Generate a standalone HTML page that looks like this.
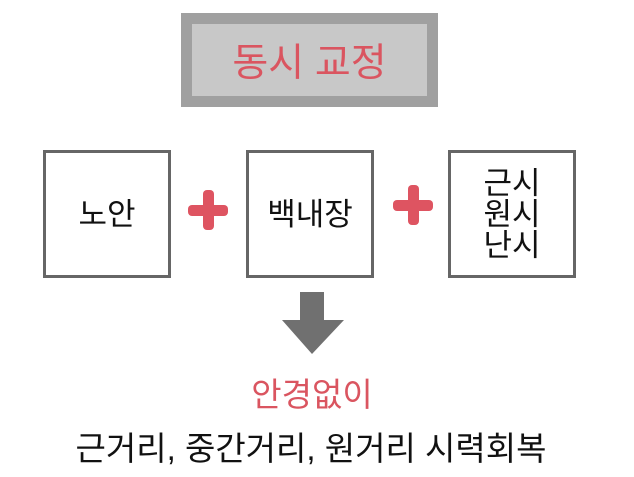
<!DOCTYPE html>
<html><head><meta charset="utf-8"><style>
body{margin:0;width:634px;height:477px;background:#fff;position:relative;overflow:hidden;font-family:"Liberation Sans","Noto Sans CJK KR",sans-serif}
.a{position:absolute}
.box{position:absolute;border:3px solid #666;box-sizing:border-box;width:128px;height:128px;top:150px;display:flex;align-items:center;justify-content:center;text-align:center;font-size:31px;color:#111;line-height:31px}
.plus{position:absolute;width:40px;height:40px}
.plus:before,.plus:after{content:"";position:absolute;background:#de5461;border-radius:4px}
.plus:before{left:0;top:15px;width:40px;height:11px}
.plus:after{left:15px;top:0;width:11px;height:40px}
</style></head><body>
<div class="a" style="left:181px;top:13px;width:257px;height:94px;background:#a0a0a0"></div>
<div class="a" style="left:192px;top:24px;width:235px;height:72px;background:#c8c8c8;display:flex;align-items:center;justify-content:center;color:#da5560;font-size:39px">동시 교정</div>
<div class="box" style="left:43px">노안</div>
<div class="box" style="left:246px">백내장</div>
<div class="box" style="left:448px">근시<br>원시<br>난시</div>
<div class="plus" style="left:188px;top:190px"></div>
<div class="plus" style="left:393px;top:185px"></div>
<svg class="a" style="left:0;top:0" width="634" height="477"><polygon points="300,292 324,292 324,320 344,320 312,354 282,320 300,320" fill="#707070"/></svg>
<div class="a" style="left:0;width:624px;top:368px;text-align:center;color:#da5560;font-size:33px">안경없이</div>
<div class="a" style="left:0;width:622px;top:422px;text-align:center;color:#111;font-size:33px">근거리, 중간거리, 원거리 시력회복</div>
</body></html>
